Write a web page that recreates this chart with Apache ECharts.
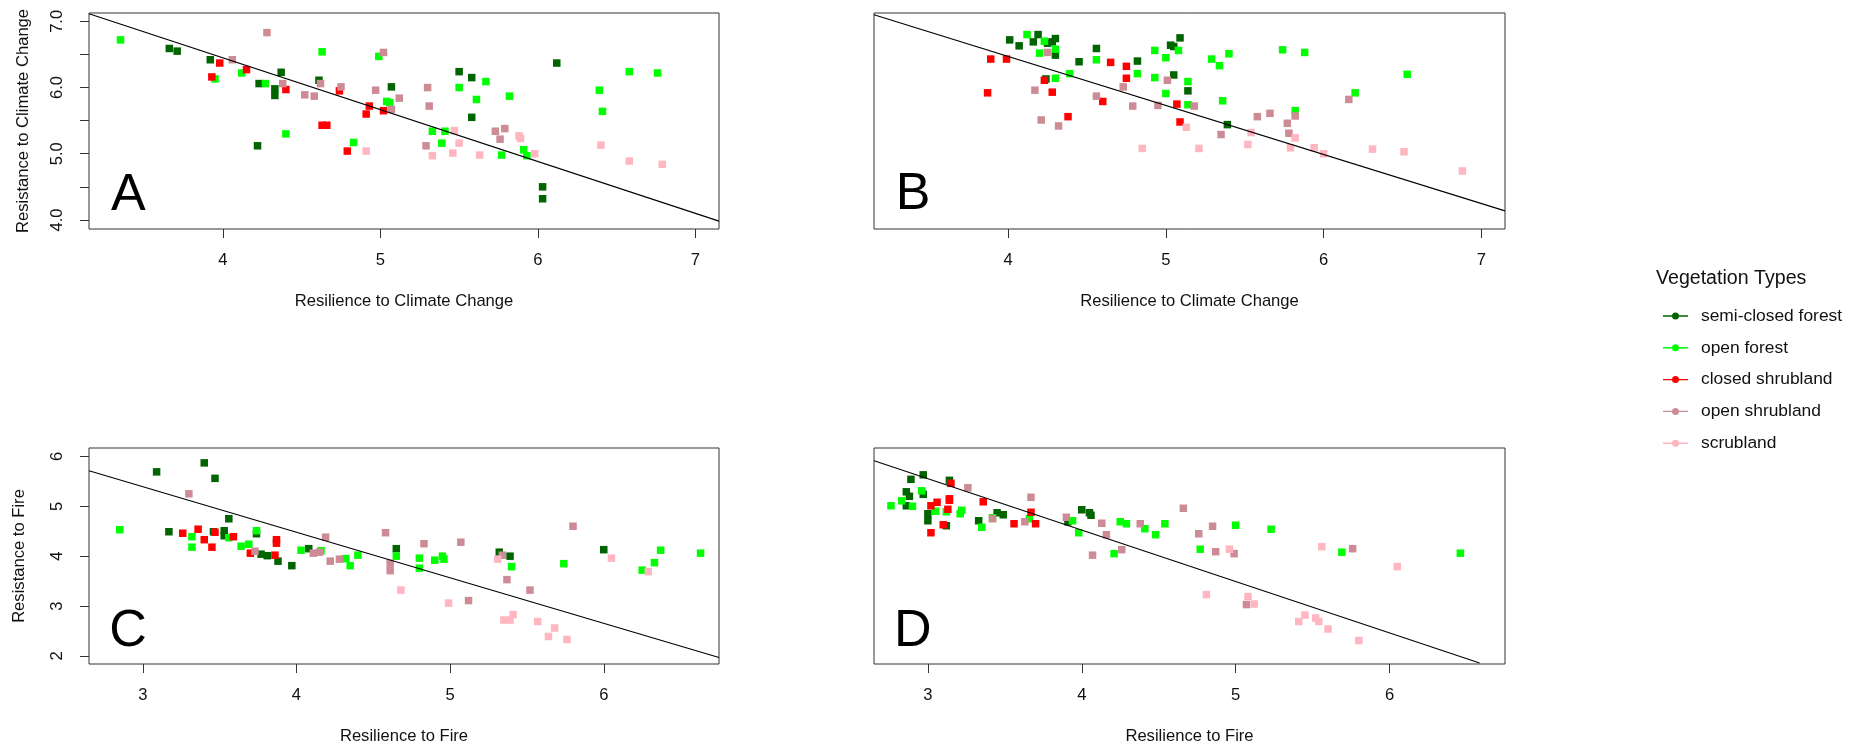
<!DOCTYPE html>
<html>
<head>
<meta charset="utf-8">
<script src="https://cdn.jsdelivr.net/npm/echarts@6/dist/echarts.min.js"></script>
<style>
html,body{margin:0;padding:0;background:#fff;}
#chart{width:1856px;height:749px;}
</style>
</head>
<body>
<div id="chart"></div>
<script>
// ---------- categories ----------
const vegetationTypes = ['semi-closed forest', 'open forest', 'closed shrubland', 'open shrubland', 'scrubland'];
const typeColors = ['#006400', '#00FF00', '#FF0000', '#CD8C95', '#FFB6C1'];

// ---------- tick values ----------
const xTicksTop = [4, 5, 6, 7];
const yTicksTop = [4, 4.5, 5, 5.5, 6, 6.5, 7];
const yLabelsTop = [4, 5, 6, 7];
const xTicksBottom = [3, 4, 5, 6];
const yTicksBottom = [2, 3, 4, 5, 6];
const xRangeTop = [3.15, 7.15];
const yRangeTop = [3.863, 7.126];
const xRangeBottom = [2.65, 6.75];
const yRangeBottom = [1.839, 6.168];

// ---------- Panel A: resilience vs resistance to climate change ----------
const A_semiClosedForest = [[3.66,6.59],[3.71,6.55],[3.92,6.42],[4.37,6.23],[4.23,6.06],[4.33,5.98],[4.33,5.88],[4.61,6.11],[5.07,6.01],[4.22,5.12],[6.12,6.37],[5.50,6.24],[5.58,6.15],[5.58,5.55],[6.03,4.50],[6.03,4.32]];
const A_openForest = [[3.35,6.72],[4.63,6.54],[3.95,6.13],[4.12,6.22],[4.27,6.06],[4.99,6.47],[5.04,5.79],[5.06,5.77],[4.40,5.30],[4.83,5.17],[5.67,6.09],[5.50,6.00],[5.61,5.82],[5.82,5.87],[5.33,5.34],[5.41,5.34],[5.39,5.16],[5.77,4.98],[5.91,5.06],[5.93,4.97],[6.39,5.96],[6.41,5.64],[6.58,6.24],[6.76,6.22]];
const A_closedShrubland = [[3.98,6.37],[3.93,6.16],[4.15,6.27],[4.40,5.97],[4.74,5.95],[4.93,5.72],[4.91,5.60],[5.02,5.65],[4.63,5.43],[4.66,5.43],[4.79,5.04]];
const A_openShrubland = [[4.28,6.83],[4.06,6.42],[4.38,6.06],[4.62,6.06],[4.52,5.89],[4.58,5.87],[4.75,6.01],[5.02,6.53],[4.97,5.96],[5.07,5.67],[5.12,5.84],[5.30,6.00],[5.31,5.72],[5.29,5.12],[5.73,5.34],[5.79,5.38],[5.76,5.22]];
const A_scrubland = [[4.91,5.04],[5.47,5.35],[5.33,4.97],[5.50,5.16],[5.46,5.01],[5.63,4.98],[5.88,5.27],[5.89,5.23],[5.98,5.00],[6.40,5.13],[6.58,4.89],[6.79,4.84]];
const A_fitLine = [[3.15,7.116],[7.15,3.982]];

// ---------- Panel B ----------
const B_semiClosedForest = [[4.01,6.72],[4.07,6.63],[4.16,6.69],[4.19,6.80],[4.25,6.67],[4.28,6.69],[4.30,6.74],[4.30,6.49],[4.45,6.39],[4.56,6.59],[4.82,6.40],[4.24,6.13],[5.03,6.64],[5.05,6.62],[5.09,6.75],[5.05,6.19],[5.14,5.95],[5.39,5.44]];
const B_openForest = [[4.12,6.80],[4.23,6.70],[4.20,6.52],[4.30,6.58],[4.30,6.14],[4.39,6.21],[4.56,6.42],[4.82,6.21],[4.93,6.56],[4.93,6.15],[5.00,6.45],[5.08,6.56],[5.14,6.09],[5.00,5.91],[5.14,5.74],[5.29,6.43],[5.34,6.33],[5.40,6.51],[5.36,5.80],[5.74,6.57],[5.88,6.53],[6.53,6.20],[6.20,5.92],[5.82,5.65]];
const B_closedShrubland = [[3.89,6.43],[3.99,6.43],[3.87,5.92],[4.23,6.11],[4.28,5.93],[4.38,5.56],[4.60,5.79],[4.65,6.38],[4.75,6.32],[4.75,6.14],[5.07,5.75],[5.09,5.48]];
const B_openShrubland = [[4.25,6.53],[4.17,5.96],[4.21,5.51],[4.32,5.42],[4.56,5.87],[4.73,6.01],[4.79,5.72],[4.95,5.73],[5.01,6.11],[5.18,5.72],[5.35,5.29],[5.58,5.56],[5.66,5.61],[5.77,5.46],[5.78,5.31],[5.82,5.57],[6.16,5.82]];
const B_scrubland = [[4.85,5.08],[5.13,5.40],[5.21,5.08],[5.54,5.32],[5.82,5.24],[5.52,5.14],[5.79,5.09],[5.94,5.09],[6.00,5.00],[6.31,5.07],[6.51,5.03],[6.88,4.74]];
const B_fitLine = [[3.15,7.101],[7.15,4.137]];

// ---------- Panel C: resilience vs resistance to fire ----------
const C_semiClosedForest = [[3.09,5.69],[3.40,5.87],[3.47,5.56],[3.56,4.75],[3.17,4.49],[3.46,4.49],[3.53,4.51],[3.53,4.41],[3.74,4.45],[3.77,4.04],[3.81,4.01],[3.88,3.90],[3.97,3.81],[4.08,4.15],[4.65,4.15],[5.32,4.08],[5.39,4.00],[6.00,4.13]];
const C_openForest = [[2.85,4.53],[3.32,4.39],[3.32,4.18],[3.56,4.37],[3.64,4.20],[3.69,4.24],[3.74,4.51],[4.03,4.12],[4.16,4.11],[4.32,3.95],[4.35,3.81],[4.40,4.02],[4.65,4.00],[4.80,3.96],[4.80,3.76],[4.90,3.92],[4.95,4.00],[4.96,3.94],[5.40,3.79],[5.74,3.85],[6.25,3.72],[6.33,3.87],[6.37,4.12],[6.63,4.06]];
const C_closedShrubland = [[3.26,4.46],[3.36,4.54],[3.40,4.33],[3.45,4.18],[3.59,4.39],[3.70,4.06],[3.86,4.02],[3.87,4.33],[3.87,4.26],[3.47,4.48]];
const C_openShrubland = [[3.30,5.25],[3.73,4.10],[4.11,4.06],[4.15,4.08],[4.19,4.38],[4.22,3.90],[4.28,3.94],[4.58,4.47],[4.61,3.86],[4.61,3.71],[4.83,4.25],[5.07,4.28],[5.12,3.11],[5.34,4.02],[5.37,3.53],[5.52,3.32],[5.80,4.60]];
const C_scrubland = [[4.68,3.32],[4.99,3.06],[5.31,3.94],[5.35,2.72],[5.39,2.72],[5.41,2.83],[5.57,2.69],[5.68,2.56],[5.64,2.39],[5.76,2.33],[6.05,3.96],[6.29,3.69]];
const C_fitLine = [[2.65,5.712],[6.75,1.970]];

// ---------- Panel D ----------
const D_semiClosedForest = [[2.89,5.54],[2.97,5.63],[3.14,5.52],[2.86,5.29],[2.88,5.20],[2.97,5.24],[2.86,5.01],[3.00,4.85],[3.00,4.71],[3.12,4.61],[3.33,4.71],[3.45,4.87],[3.49,4.83],[3.91,4.69],[4.00,4.93],[4.05,4.87],[4.06,4.82]];
const D_openForest = [[2.76,5.01],[2.83,5.11],[2.90,5.00],[2.96,5.31],[3.05,4.90],[3.12,4.89],[3.21,4.85],[3.22,4.92],[3.35,4.58],[3.42,4.77],[3.66,4.75],[3.94,4.71],[3.98,4.47],[4.25,4.69],[4.29,4.65],[4.41,4.55],[4.48,4.43],[4.54,4.65],[4.21,4.05],[4.77,4.14],[5.00,4.62],[5.23,4.54],[5.69,4.08],[6.46,4.06]];
const D_closedShrubland = [[3.02,4.47],[3.02,5.01],[3.06,5.08],[3.14,5.15],[3.13,4.94],[3.10,4.63],[3.15,5.46],[3.36,5.09],[3.56,4.65],[3.67,4.88],[3.70,4.65],[3.14,5.12]];
const D_openShrubland = [[3.26,5.37],[3.67,5.18],[3.42,4.75],[3.63,4.69],[3.90,4.78],[4.13,4.66],[4.16,4.43],[4.07,4.02],[4.26,4.13],[4.38,4.65],[4.66,4.96],[4.76,4.45],[4.85,4.60],[4.87,4.09],[4.99,4.05],[5.07,3.03],[5.76,4.15]];
const D_scrubland = [[4.81,3.23],[4.96,4.14],[5.08,3.19],[5.12,3.04],[5.41,2.69],[5.45,2.82],[5.52,2.76],[5.54,2.69],[5.60,2.54],[5.80,2.31],[5.56,4.19],[6.05,3.79]];
const D_fitLine = [[2.651,5.913],[6.585,1.859]];

// ---------- build ----------
const FONT = "'Liberation Sans', Arial, sans-serif";
const panels = [
  {letter:'A', sets:[A_semiClosedForest,A_openForest,A_closedShrubland,A_openShrubland,A_scrubland], fit:A_fitLine,
   grid:{left:89, top:13, width:630, height:216}, xr:xRangeTop, yr:yRangeTop, xt:xTicksTop, yt:yTicksTop, yl:yLabelsTop,
   xName:'Resilience to Climate Change', yName:'Resistance to Climate Change', yAxisShown:true, yDec:1, yNameGap:57, letterPos:[128.3,195.3]},
  {letter:'B', sets:[B_semiClosedForest,B_openForest,B_closedShrubland,B_openShrubland,B_scrubland], fit:B_fitLine,
   grid:{left:874, top:13, width:631, height:216}, xr:xRangeTop, yr:yRangeTop, xt:xTicksTop, yt:yTicksTop, yl:yLabelsTop,
   xName:'Resilience to Climate Change', yName:'', yAxisShown:false, yDec:1, yNameGap:57, letterPos:[913,194.5]},
  {letter:'C', sets:[C_semiClosedForest,C_openForest,C_closedShrubland,C_openShrubland,C_scrubland], fit:C_fitLine,
   grid:{left:89, top:448, width:630, height:216}, xr:xRangeBottom, yr:yRangeBottom, xt:xTicksBottom, yt:yTicksBottom, yl:yTicksBottom,
   xName:'Resilience to Fire', yName:'Resistance to Fire', yAxisShown:true, yDec:0, yNameGap:61, letterPos:[128,632]},
  {letter:'D', sets:[D_semiClosedForest,D_openForest,D_closedShrubland,D_openShrubland,D_scrubland], fit:D_fitLine,
   grid:{left:874, top:448, width:631, height:216}, xr:xRangeBottom, yr:yRangeBottom, xt:xTicksBottom, yt:yTicksBottom, yl:yTicksBottom,
   xName:'Resilience to Fire', yName:'', yAxisShown:false, yDec:0, yNameGap:61, letterPos:[912.8,632]}
];

const grid = [], xAxis = [], yAxis = [], series = [], graphic = [];
panels.forEach((p, gi) => {
  grid.push(Object.assign({show:true, borderColor:'#333', borderWidth:1, backgroundColor:'transparent', containLabel:false, outerBoundsMode:'none'}, p.grid));
  xAxis.push({
    type:'value', gridIndex:gi, min:p.xr[0], max:p.xr[1],
    name:p.xName, nameLocation:'middle', nameGap:64,
    nameTextStyle:{fontFamily:FONT, fontSize:16.6, color:'#111'},
    axisLine:{show:false}, splitLine:{show:false},
    axisTick:{show:true, inside:false, length:9, lineStyle:{color:'#333', width:1}, customValues:p.xt},
    axisLabel:{show:true, margin:23, fontFamily:FONT, fontSize:16.6, color:'#111', customValues:p.xt, formatter:(v)=>String(v)}
  });
  yAxis.push({
    type:'value', gridIndex:gi, min:p.yr[0], max:p.yr[1],
    name:p.yName, nameLocation:'middle', nameGap:p.yNameGap,
    nameTextStyle:{fontFamily:FONT, fontSize:16.6, color:'#111'},
    axisLine:{show:false}, splitLine:{show:false},
    axisTick:{show:p.yAxisShown, inside:false, length:9, lineStyle:{color:'#333', width:1}, customValues:p.yt},
    axisLabel:{show:p.yAxisShown, rotate:90, margin:23, fontFamily:FONT, fontSize:16.6, color:'#111', customValues:p.yl,
      formatter:(v)=>Number(v).toFixed(p.yDec)}
  });
  p.sets.forEach((pts, ti) => {
    series.push({
      type:'scatter', name:vegetationTypes[ti], xAxisIndex:gi, yAxisIndex:gi, data:pts,
      symbol:'rect', symbolSize:7.5, itemStyle:{color:typeColors[ti], opacity:1}, silent:true, z:2
    });
  });
  series.push({
    type:'line', name:'fit '+p.letter, xAxisIndex:gi, yAxisIndex:gi, data:p.fit,
    symbol:'none', showSymbol:false, lineStyle:{color:'#000', width:1.1}, silent:true, z:3, clip:true
  });
  graphic.push({
    type:'text', x:p.letterPos[0], y:p.letterPos[1], silent:true,
    style:{text:p.letter, fontFamily:FONT, fontSize:52, fill:'#000', textAlign:'center', textVerticalAlign:'middle', verticalAlign:'middle'}
  });
});

graphic.push({
  type:'text', x:1656, y:279, silent:true,
  style:{text:'Vegetation Types', fontFamily:FONT, fontSize:19.6, fill:'#111', textAlign:'left', textVerticalAlign:'middle', verticalAlign:'middle'}
});

const legendIcon = 'path://M0,2.8H25V4.2H0Z M16,3.5A3.5,3.5,0,1,1,9,3.5A3.5,3.5,0,1,1,16,3.5Z';

const option = {
  animation:false,
  backgroundColor:'#fff',
  grid, xAxis, yAxis, series, graphic,
  legend:{
    data:vegetationTypes, orient:'vertical', left:1658, top:302,
    itemWidth:25, itemHeight:7, itemGap:13.8, icon:legendIcon, selectedMode:false,
    textStyle:{fontFamily:FONT, fontSize:17.4, color:'#111', padding:[0,0,0,8], lineHeight:18}
  }
};

const chart = echarts.init(document.getElementById('chart'), null, {renderer:'canvas'});
chart.setOption(option);
</script>
</body>
</html>
